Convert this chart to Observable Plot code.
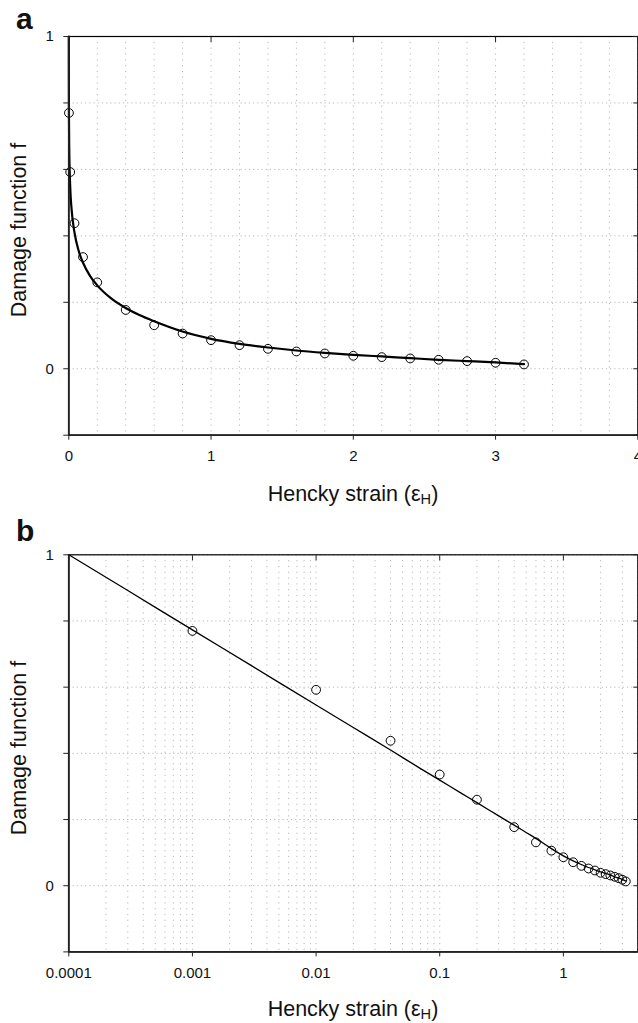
<!DOCTYPE html>
<html>
<head>
<meta charset="utf-8">
<script src="https://cdn.jsdelivr.net/npm/d3@7"></script>
<script src="https://cdn.jsdelivr.net/npm/@observablehq/plot@0.6"></script>
<style>
  html, body { margin: 0; padding: 0; background: #fff; }
  #wrap { position: relative; width: 638px; height: 1023px; overflow: hidden; font-family: "Liberation Sans", Arial, Helvetica, sans-serif; color: #111; }
  .panel { position: absolute; left: 0; }
  .lbl { position: absolute; white-space: nowrap; line-height: 1; }
  .xlab { font-size: 21.5px; transform: translateX(-50%); }
  .ylab { font-size: 21.5px; transform: translate(-50%, -50%) rotate(-90deg); }
  .tag { font-size: 30px; font-weight: bold; }
  sub { font-size: 0.68em; vertical-align: -0.2em; line-height: 0; }
</style>
</head>
<body>
<div id="wrap"></div>
<script>
// ---- data ----
const ptsX = [0.001, 0.01, 0.04, 0.1, 0.2, 0.4, 0.6, 0.8, 1.0, 1.2, 1.4, 1.6, 1.8, 2.0, 2.2, 2.4, 2.6, 2.8, 3.0, 3.2];
const ptsY = [0.770, 0.592, 0.438, 0.336, 0.260, 0.177, 0.131, 0.106, 0.086, 0.071, 0.060, 0.052, 0.046, 0.039, 0.035, 0.031, 0.027, 0.023, 0.018, 0.013];
const fitX = [0.0001, 0.0003, 0.001, 0.003, 0.01, 0.02, 0.04, 0.07, 0.1, 0.15, 0.2, 0.3, 0.4, 0.5, 0.6, 0.8, 1.0, 1.2, 1.4, 1.6, 1.8, 2.0, 2.2, 2.4, 2.6, 2.8, 3.0, 3.2];
const fitY = [1.000, 0.892, 0.773, 0.665, 0.546, 0.478, 0.410, 0.354, 0.319, 0.279, 0.251, 0.211, 0.183, 0.161, 0.143, 0.112, 0.090, 0.075, 0.064, 0.055, 0.048, 0.042, 0.037, 0.032, 0.027, 0.023, 0.019, 0.014];

const yTicks = [-0.2, 0, 0.2, 0.4, 0.6, 0.8, 1];
const yTickLabels = ["", "0", "", "", "", "", "1"];
const xTicksLin = [0, 1, 2, 3, 4];
const xTickLabelsLin = ["0", "1", "2", "3", "4"];
const xGridLin = [0, 0.2, 0.4, 0.6, 0.8, 1, 1.2, 1.4, 1.6, 1.8, 2, 2.2, 2.4, 2.6, 2.8, 3, 3.2, 3.4, 3.6, 3.8, 4];
const xTicksLog = [0.0001, 0.001, 0.01, 0.1, 1];
const xTickLabelsLog = ["0.0001", "0.001", "0.01", "0.1", "1"];
const logMantissas = [1, 2, 3, 4, 5, 6, 7, 8, 9];
const yLabelText = "Damage function f";

const pts = ptsX.map((x, i) => ({x, y: ptsY[i]}));
const fit = fitX.map((x, i) => ({x, y: fitY[i]}));
const xGridLog = [];
xTicksLog.forEach(d => logMantissas.forEach(m => { const v = d * m; if (v <= 4) xGridLog.push(v); }));

const FONT = '"Liberation Sans", Arial, Helvetica, sans-serif';
const GRID = {stroke: "#b8b8b8", strokeOpacity: 1, strokeWidth: 1};

function panel({log, xDomain, xGrid, xTicks, xLabels, lineWidth, height, mt, mb}) {
  const yFmt = d => yTickLabels[yTicks.indexOf(d)] ?? "";
  const xFmt = d => xLabels[xTicks.indexOf(d)] ?? "";
  return Plot.plot({
    width: 638, height,
    marginTop: mt, marginBottom: mb, marginLeft: 68.3, marginRight: 0.7,
    style: {fontFamily: FONT, fontSize: "15px", color: "#111", background: "transparent", overflow: "visible"},
    x: log ? {type: "log", domain: xDomain, axis: null} : {domain: xDomain, axis: null},
    y: {domain: [-0.2, 1], axis: null},
    marks: [
      Plot.gridX(xGrid, {...GRID, strokeDasharray: "1.2,4.6"}),
      Plot.gridY(yTicks, {...GRID, strokeDasharray: "1.2,3"}),
      Plot.line(fit, {x: "x", y: "y", stroke: "#000", strokeWidth: lineWidth, curve: "monotone-x"}),
      Plot.dot(pts, {x: "x", y: "y", r: 4.4, stroke: "#000", strokeWidth: 1, fill: "none"}),
      Plot.frame({stroke: "#000", strokeWidth: 1.2}),
      Plot.ruleX([xDomain[0]], {stroke: "#222", strokeWidth: 1.8}),
      Plot.ruleY([-0.2], {stroke: "#222", strokeWidth: 1.8}),
      Plot.axisX(xTicks, {anchor: "bottom", tickSize: 5, tickPadding: 10, tickFormat: xFmt, label: null, stroke: "#222", fontSize: 15, fill: "#111"}),
      Plot.axisX(xTicks, {anchor: "top", tickSize: -5, tickFormat: () => "", label: null, stroke: "#222"}),
      Plot.axisY(yTicks, {anchor: "left", tickSize: 5, tickPadding: 10, tickFormat: yFmt, label: null, stroke: "#222", fontSize: 15, fill: "#111"}),
      Plot.axisY(yTicks, {anchor: "right", tickSize: -5, tickFormat: () => "", label: null, stroke: "#222"})
    ]
  });
}

const wrap = document.getElementById("wrap");

const p1 = panel({log: false, xDomain: [0, 4], xGrid: xGridLin, xTicks: xTicksLin, xLabels: xTickLabelsLin,
  lineWidth: 2.2, height: 470, mt: 36, mb: 35.3});
p1.classList.add("panel"); p1.style.top = "0px";
wrap.appendChild(p1);

const p2 = panel({log: true, xDomain: [0.0001, 4], xGrid: xGridLog, xTicks: xTicksLog, xLabels: xTickLabelsLog,
  lineWidth: 1.3, height: 513, mt: 44.3, mb: 71.6});
p2.classList.add("panel"); p2.style.top = "510px";
wrap.appendChild(p2);

function addLabel(cls, html, left, top) {
  const d = document.createElement("div");
  d.className = "lbl " + cls;
  d.innerHTML = html;
  d.style.left = left + "px";
  d.style.top = top + "px";
  wrap.appendChild(d);
}
const xLabelHtml = "Hencky strain (\u03b5<sub>H</sub>)";
addLabel("tag", "a", 16, 4);
addLabel("tag", "b", 16, 516);
addLabel("xlab", xLabelHtml, 353, 483.5);
addLabel("xlab", xLabelHtml, 353, 999.2);
addLabel("ylab", yLabelText, 20, 230);
addLabel("ylab", yLabelText, 20, 748);
</script>
</body>
</html>
